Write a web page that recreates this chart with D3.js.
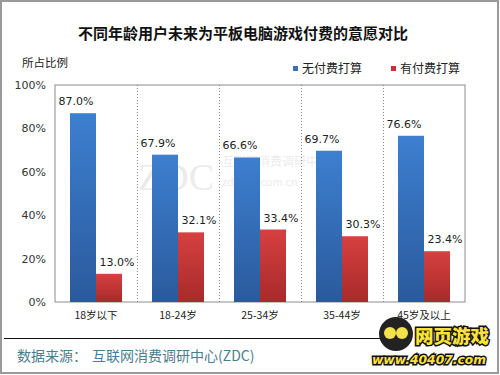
<!DOCTYPE html>
<html><head><meta charset="utf-8">
<script src="https://cdnjs.cloudflare.com/ajax/libs/d3/7.8.5/d3.min.js"></script>
<style>body{margin:0;background:#fff}svg{display:block}</style>
</head><body><div id="c"></div>
<script>
const categories = ["18岁以下","18-24岁","25-34岁","35-44岁","45岁及以上"];
const noPay = [87.0, 67.9, 66.6, 69.7, 76.6];
const willPay = [13.0, 32.1, 33.4, 30.3, 23.4];
const seriesNames = ["无付费打算","有付费打算"];
const yTicks = [0,20,40,60,80,100];
const title = "不同年龄用户未来为平板电脑游戏付费的意愿对比";
const yTitle = "所占比例";
const sourceLabel = "数据来源：";
const sourceName = "互联网消费调研中心(ZDC)";

const W=500,H=375;
const font = "'Noto Sans CJK SC','Noto Sans',sans-serif";
const numFont = "'DejaVu Sans',sans-serif";
const svg = d3.select("#c").append("svg").attr("width",W).attr("height",H);
const defs = svg.append("defs");
function grad(id,c1,c2){const g=defs.append("linearGradient").attr("id",id).attr("x1",0).attr("y1",0).attr("x2",0).attr("y2",1);
 g.append("stop").attr("offset","0%").attr("stop-color",c1);g.append("stop").attr("offset","100%").attr("stop-color",c2);}
grad("gb","#3d7fd0","#2a5a9c");
grad("gr","#d64040","#a82a2a");

svg.append("rect").attr("x",1).attr("y",1).attr("width",W-3).attr("height",H-3).attr("fill","#fff").attr("stroke","#9a9a9a").attr("stroke-width",2);

const m={l:55,r:465,t:85,b:302};
const x = d3.scaleBand().domain(categories).range([m.l,m.r]);
const y = d3.scaleLinear().domain([0,100]).range([m.b,m.t]);

svg.append("text").attr("x",243).attr("y",39).attr("text-anchor","middle").attr("font-family",font).attr("font-weight","bold").attr("font-size",15).attr("fill","#111").text(title);
svg.append("text").attr("x",22).attr("y",67).attr("font-family",font).attr("font-size",11.5).attr("fill","#222").text(yTitle);

// legend
const lg=[{n:seriesNames[0],c:"#3f6fb6",x:293},{n:seriesNames[1],c:"#c03636",x:391}];
lg.forEach(d=>{svg.append("rect").attr("x",d.x).attr("y",66).attr("width",5).attr("height",5).attr("fill",d.c);
 svg.append("text").attr("x",d.x+9).attr("y",73).attr("font-family",font).attr("font-size",12).attr("fill","#222").text(d.n);});

// watermark
const wm=svg.append("g").attr("opacity",0.16);
wm.append("text").attr("x",138).attr("y",190).attr("font-family","'Liberation Serif',serif").attr("font-size",38).attr("fill","#888").text("ZDC");
wm.append("text").attr("x",222).attr("y",166).attr("font-family",font).attr("font-size",12).attr("fill","#888").text("互联网消费调研中心");
wm.append("text").attr("x",222).attr("y",186).attr("font-family",font).attr("font-size",11).attr("fill","#888").text("zdc.zol.com.cn");

// plot frame
svg.append("rect").attr("x",m.l).attr("y",m.t).attr("width",m.r-m.l).attr("height",m.b-m.t).attr("fill","none").attr("stroke","#8c8c8c").attr("stroke-width",1);
categories.slice(1).forEach(c=>{svg.append("line").attr("x1",x(c)+0.5).attr("x2",x(c)+0.5).attr("y1",m.t).attr("y2",m.b).attr("stroke","#888").attr("stroke-dasharray","1,2");});

// y axis
const ya=svg.append("g").attr("transform",`translate(${m.l},0)`).call(d3.axisLeft(y).tickValues(yTicks).tickFormat(d=>d+"%").tickSize(0).tickPadding(9));
ya.select(".domain").remove();
ya.selectAll("text").attr("font-family",numFont).attr("font-size",11).attr("fill","#333");

// x axis
const xa=svg.append("g").attr("transform",`translate(0,${m.b})`).call(d3.axisBottom(x).tickSize(0).tickPadding(10));
xa.select(".domain").remove();
xa.selectAll("text").attr("font-family",font).attr("font-size",10.5).attr("fill","#222");

const bw=26;
const data=categories.map((c,i)=>({c,a:noPay[i],b:willPay[i]}));
const g=svg.append("g");
data.forEach(d=>{
 const cx=x(d.c)+x.bandwidth()/2;
 g.append("rect").attr("x",cx-bw).attr("y",y(d.a)).attr("width",bw).attr("height",y(0)-y(d.a)).attr("fill","url(#gb)");
 g.append("rect").attr("x",cx).attr("y",y(d.b)).attr("width",bw).attr("height",y(0)-y(d.b)).attr("fill","url(#gr)");
 g.append("text").attr("x",cx-20).attr("y",y(d.a)-8).attr("text-anchor","middle").attr("font-family",numFont).attr("font-size",11).attr("fill","#222").text(d.a.toFixed(1)+"%");
 g.append("text").attr("x",cx+21).attr("y",y(d.b)-8).attr("text-anchor","middle").attr("font-family",numFont).attr("font-size",11).attr("fill","#222").text(d.b.toFixed(1)+"%");
});

// footer
svg.append("line").attr("x1",4).attr("x2",400).attr("y1",338.5).attr("y2",338.5).attr("stroke","#111").attr("stroke-width",1);
svg.append("text").attr("x",17).attr("y",361).attr("font-family",font).attr("font-size",14).attr("fill","#4a7d8e").text(sourceLabel);
svg.append("text").attr("x",92).attr("y",361).attr("font-family",font).attr("font-size",14).attr("fill","#4a7d8e").text(sourceName);

// logo
const lo=svg.append("g");
lo.append("circle").attr("cx",396).attr("cy",334).attr("r",17).attr("fill","#222");
lo.append("circle").attr("cx",390).attr("cy",333).attr("r",6).attr("fill","#f2e34a");
lo.append("circle").attr("cx",402).attr("cy",333).attr("r",6).attr("fill","#f2e34a");
lo.append("text").attr("x",415).attr("y",343).attr("font-family",font).attr("font-weight","900").attr("font-size",18).attr("textLength",74).attr("lengthAdjust","spacingAndGlyphs").attr("fill","#ffe23a").attr("stroke","#111").attr("stroke-width",3).attr("paint-order","stroke").text("网页游戏");
lo.append("text").attr("x",372).attr("y",364).attr("font-family",numFont).attr("font-weight","bold").attr("font-style","italic").attr("font-size",13).attr("textLength",114).attr("lengthAdjust","spacingAndGlyphs").attr("fill","#ffe23a").attr("stroke","#111").attr("stroke-width",3).attr("paint-order","stroke").text("www.40407.com");
</script></body></html>
